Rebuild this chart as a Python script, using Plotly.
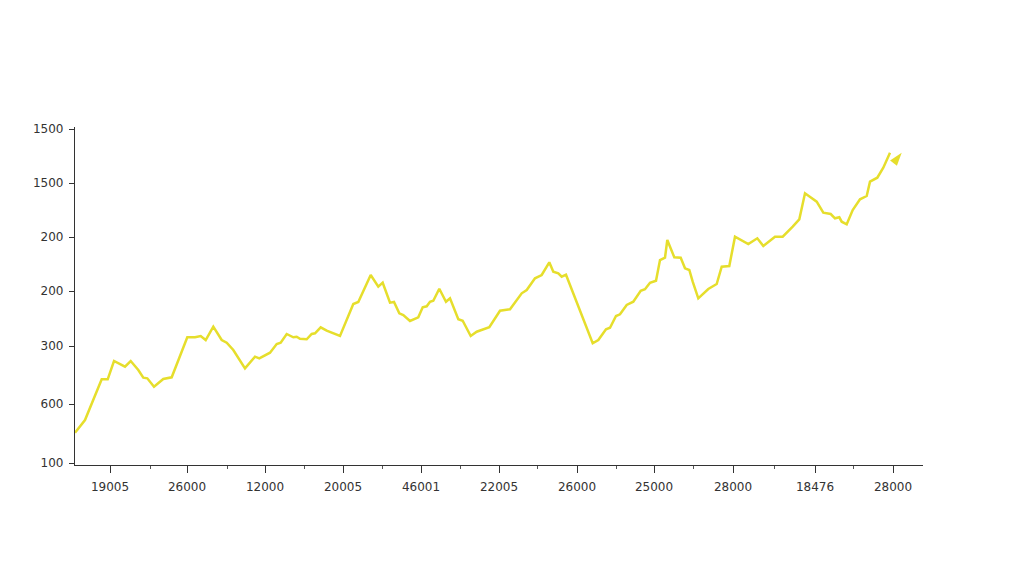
import plotly.graph_objects as go

# Line trace (x position along axis, y value on axis scale); last point is the arrow tip
x_vals = [0, 10, 26.7, 32.7, 39, 50, 55.7, 63.3, 68.3, 72.3, 79, 88.3, 96.7, 112.3, 120, 125.7, 130.7,
          138.3, 146.7, 151.7, 158.3, 170, 180, 184.3, 195, 201.7, 205.7, 211.7, 218.3, 221.7, 225, 231.7,
          236.7, 240, 245.7, 251.7, 265, 278.3, 283.3, 295.7, 303.3, 307.7, 315, 319, 324.3, 328.3, 335,
          343.3, 347.7, 351.7, 355, 358.3, 364.3, 371, 375, 383.3, 387.7, 395.7, 401.7, 408.3, 414.3, 425,
          435, 446.7, 451.7, 460, 466.7, 474.3, 478.3, 483.3, 486.7, 491, 517.7, 523.3, 531, 535, 541,
          545, 551.7, 558.3, 565.7, 570, 575, 581, 585, 590, 592.3, 599.3, 605.7, 610, 614.3, 617.7,
          623.3, 633.3, 641.7, 646.7, 654.3, 660, 673.3, 682.3, 688.3, 700, 707.7, 717.7, 724.3, 730,
          741.7, 748.3, 755.7, 760, 764.3, 766.7, 771.7, 777.7, 785, 791.7, 795, 802.3, 808.3, 815, 826.7]
y_vals = [32.3, 45, 85.7, 85.7, 104, 98.3, 104, 95, 87.3, 86.7, 78.3, 86, 87.7, 127.7, 127.7, 129, 125,
          138.3, 125, 122.3, 115, 96.7, 108.3, 106.7, 112.3, 121, 122.3, 131, 127.7, 128.3, 126.3, 125.7,
          131, 131.7, 137.7, 134.3, 129, 161, 163, 190, 178.3, 182.3, 162.3, 163, 151.7, 150, 144, 147.7,
          157.7, 158.7, 163.3, 164.3, 176.3, 163.3, 166.7, 145.7, 144.3, 129, 133.3, 135.7, 137.7, 154.3,
          155.7, 171.7, 175, 186.7, 190, 202.7, 193.3, 191.7, 188.3, 190.3, 121.7, 125, 135.7, 137.3, 149,
          150.7, 160, 163.3, 174.3, 175.7, 182.3, 184.3, 205, 207.3, 225, 207.7, 207.3, 196.7, 195, 183.3,
          166.7, 176, 181, 198.3, 199, 228.3, 221, 226.7, 219, 228.3, 228.3, 238.3, 245.7, 271.7, 263.3,
          252.3, 251, 246.7, 247.7, 243.3, 240.7, 255, 265.7, 269, 283.3, 287.3, 297.3, 312.3]

# Axis tick positions and (as printed) labels
y_tick_vals = [2, 61, 119, 174, 228, 282, 336]
y_tick_text = ["100", "600", "300", "200", "200", "1500", "1500"]
x_tick_vals = [35, 112, 190, 268, 346, 424, 502, 579, 658, 740, 818]
x_tick_text = ["19005", "26000", "12000", "20005", "46001", "22005", "26000", "25000", "28000", "18476", "28000"]
x_minor_vals = [75, 152, 229, 307, 385, 462, 541, 618, 699, 778]

line_color = "#E6DE2C"

fig = go.Figure()
fig.add_trace(go.Scatter(x=x_vals, y=y_vals, mode="lines",
                         line=dict(color=line_color, width=2.5),
                         hoverinfo="skip"))
# arrow head whose tip sits on the last point
fig.add_trace(go.Scatter(x=[x_vals[-1]], y=[y_vals[-1]], mode="markers",
                         marker=dict(size=14, symbol="arrow", angle=38,
                                     color=line_color, line=dict(width=0)),
                         hoverinfo="skip"))

axis_font = dict(family="DejaVu Sans", size=12, color="#333333")

fig.update_layout(
    width=1024, height=585,
    margin=dict(l=67, r=109, t=119, b=128),
    paper_bgcolor="white", plot_bgcolor="white",
    showlegend=False,
    xaxis=dict(range=[0, 848], showgrid=False, zeroline=False,
               showline=True, linecolor="#333333", linewidth=1.2,
               tickmode="array", tickvals=x_tick_vals, ticktext=x_tick_text,
               ticks="outside", ticklen=7, tickcolor="#333333", tickwidth=1,
               tickfont=axis_font, ticklabelstandoff=3,
               minor=dict(tickmode="array", tickvals=x_minor_vals, ticks="outside",
                          ticklen=3, tickcolor="#555555", showgrid=False)),
    yaxis=dict(range=[0, 338], showgrid=False, zeroline=False,
               showline=True, linecolor="#333333", linewidth=1.2,
               tickmode="array", tickvals=y_tick_vals, ticktext=y_tick_text,
               ticks="outside", ticklen=5, tickcolor="#333333", tickwidth=1,
               tickfont=axis_font, ticklabelstandoff=3),
)

fig.write_html("out.html")
